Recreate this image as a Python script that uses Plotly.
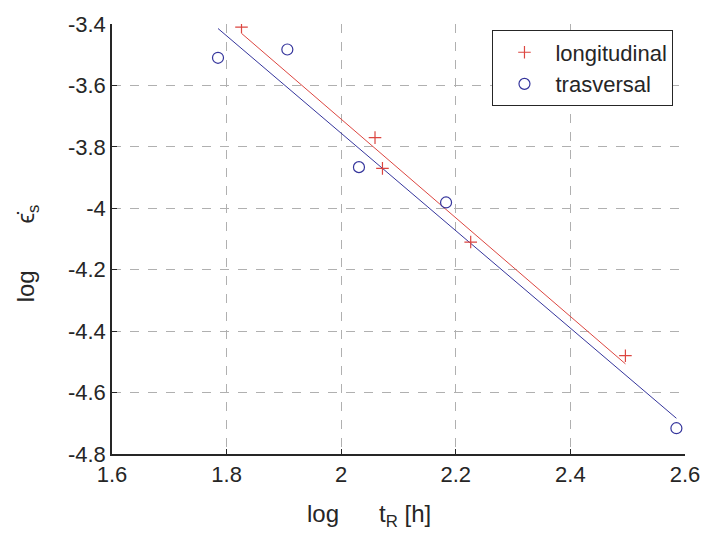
import numpy as np
import plotly.graph_objects as go

# Data
long_x = [1.826, 2.059, 2.072, 2.226, 2.496]
long_y = [-3.41, -3.77, -3.87, -4.11, -4.48]
tras_x = [1.785, 1.906, 2.031, 2.183, 2.585]
tras_y = [-3.510, -3.483, -3.866, -3.981, -4.716]

x_ticks = [1.6, 1.8, 2.0, 2.2, 2.4, 2.6]
x_ticklabels = ["1.6", "1.8", "2", "2.2", "2.4", "2.6"]
y_ticks = [-3.4, -3.6, -3.8, -4.0, -4.2, -4.4, -4.6, -4.8]
y_ticklabels = ["-3.4", "-3.6", "-3.8", "-4", "-4.2", "-4.4", "-4.6", "-4.8"]

RED = "#dc4640"
BLUE = "#35359c"

def fit(xs, ys):
    m, c = np.polyfit(xs, ys, 1)
    xx = [min(xs), max(xs)]
    return xx, [m * v + c for v in xx]

fig = go.Figure()
lx, ly = fit(long_x, long_y)
tx, ty = fit(tras_x, tras_y)
fig.add_trace(go.Scatter(x=lx, y=ly, mode="lines", line=dict(color=RED, width=1), showlegend=False))
fig.add_trace(go.Scatter(x=tx, y=ty, mode="lines", line=dict(color=BLUE, width=1), showlegend=False))
fig.add_trace(go.Scatter(x=long_x, y=long_y, mode="markers", name="longitudinal",
                         marker=dict(symbol="cross-thin", size=9, line=dict(color=RED, width=1.2))))
fig.add_trace(go.Scatter(x=tras_x, y=tras_y, mode="markers", name="trasversal",
                         marker=dict(symbol="circle-open", size=11, color=BLUE, line=dict(color=BLUE, width=1.2))))

FONT = "Liberation Sans, Arial, sans-serif"
NB = "\u00a0"
fig.update_layout(
    width=712, height=538,
    margin=dict(l=112, r=20, t=17, b=84),
    paper_bgcolor="white", plot_bgcolor="white",
    font=dict(family=FONT, size=22, color="#262626"),
    legend=dict(x=0.664, y=0.985, xanchor="left", yanchor="top",
                bordercolor="#262626", borderwidth=1, bgcolor="white",
                font=dict(size=22, color="#262626"), itemwidth=52, tracegroupgap=0),
    xaxis=dict(range=[1.6, 2.6], tickvals=x_ticks, ticktext=x_ticklabels,
               showline=True, linecolor="#262626", linewidth=1.5,
               ticks="inside", ticklen=5, tickcolor="#262626",
               showgrid=True, gridcolor="#b0b0b0", griddash="dash", gridwidth=1,
               zeroline=False),
    yaxis=dict(range=[-4.8, -3.4], tickvals=y_ticks, ticktext=y_ticklabels,
               showline=True, linecolor="#262626", linewidth=1.5,
               ticks="inside", ticklen=5, tickcolor="#262626",
               showgrid=True, gridcolor="#b0b0b0", griddash="dash", gridwidth=1,
               zeroline=False),
    annotations=[
        dict(text="log" + NB * 6 + "t<sub>R</sub> [h]", xref="paper", yref="paper",
             x=(307 - 112) / 580, y=0, xanchor="left", yanchor="top", yshift=-44,
             showarrow=False, font=dict(size=24, color="#262626")),
        dict(text="log" + NB * 7 + "\u03f5\u0307<sub>s</sub>", xref="paper", yref="paper",
             x=(26 - 112) / 580, y=(454 - 250) / 437, xanchor="center", yanchor="middle",
             textangle=-90, showarrow=False, font=dict(size=24, color="#262626")),
    ],
)
fig.write_html("out.html")
